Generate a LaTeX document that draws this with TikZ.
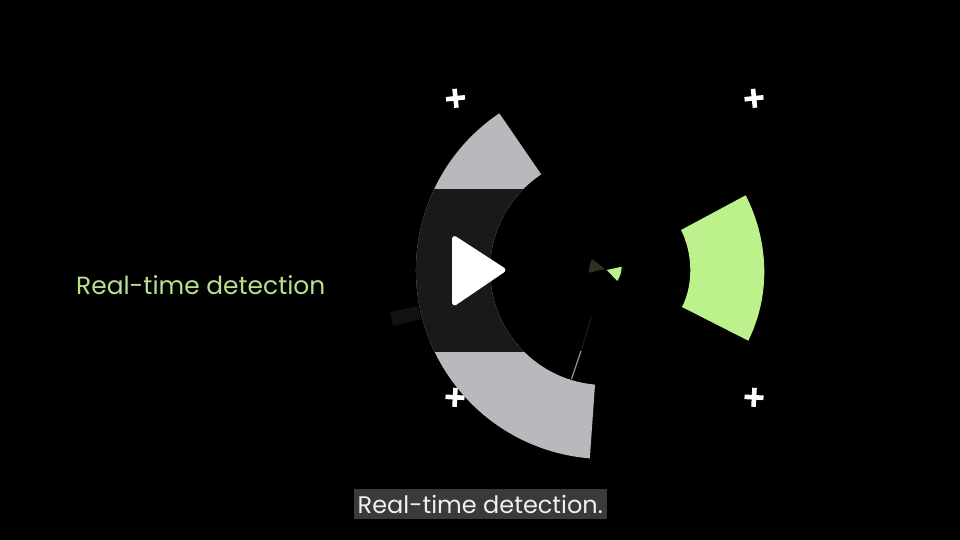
\documentclass[tikz,border=0pt]{standalone}
\usepackage{fontspec}
\setmainfont{Poppins}
\definecolor{ringgray}{HTML}{B8B9BD}
\definecolor{banddark}{HTML}{191919}
\definecolor{limegreen}{HTML}{BDF18C}
\definecolor{labelgreen}{HTML}{B8E08E}
\definecolor{dimgreen}{HTML}{29331F}
\definecolor{capbg}{HTML}{3A3A3A}
\definecolor{faintbar}{HTML}{121212}
\tikzset{
  px/.style={x=1pt,y=-1pt},
  plusmark/.style={draw=white,line width=4.6pt,line cap=butt},
  sideLabel/.style={anchor=base west,inner sep=0pt,text=labelgreen,font=\fontsize{24.9}{30}\selectfont},
  capLabel/.style={anchor=base west,inner sep=0pt,text=white!94!black,font=\fontsize{24}{29}\selectfont},
}
\begin{document}
\begin{tikzpicture}[px]
\useasboundingbox (0,0) rectangle (960,540);
\fill[black] (0,0) rectangle (960,540);
% plus marks
\foreach \cx/\cy/\r in {455.5/98.3/6,754/98.3/6,455/397.3/-3,754/397.3/-3}{
  \draw[plusmark,rotate around={\r:(\cx,\cy)}] (\cx-9.5,\cy) -- (\cx+9.5,\cy) (\cx,\cy-9.5) -- (\cx,\cy+9.5);
}
% faint bar
\fill[faintbar] (390,312) -- (418,306) -- (421,319) -- (393,326) -- cycle;
% thin needle
\draw[banddark,line width=1.2pt] (591.5,317) -- (581,351);
\draw[ringgray!80!black,line width=1.2pt] (581,351) -- (571.5,379);
% grey ring about (605,270), R=189 / 115
\fill[ringgray]
  (499.3,113.3) arc[start angle=-124,delta angle=-141.4,radius=189]
  -- (595,384.6) arc[start angle=95,delta angle=141.3,radius=115] -- cycle;
\begin{scope}
  \clip (400,189) rectangle (620,351);
  \fill[banddark]
    (499.3,113.3) arc[start angle=-124,delta angle=-141.4,radius=189]
    -- (595,384.6) arc[start angle=95,delta angle=141.3,radius=115] -- cycle;
\end{scope}
% green sector
\fill[limegreen]
  (745.7,195.3) .. controls (769,241) and (771,295) .. (748.3,340.7)
  -- (682,307) .. controls (693.7,284) and (692.7,253) .. (681,230) -- cycle;
% small marks
\fill[limegreen] (606.7,270) -- (621.7,266.7) .. controls (621.5,272) and (620,277) .. (617.3,281) -- cycle;
\fill[dimgreen] (592,259) -- (605,269) -- (589,272.7) .. controls (589,268) and (590,263) .. (592,259) -- cycle;
% play
\fill[white,draw=white,line width=5pt,line join=round] (454.5,238.5) -- (503,270) -- (454.5,303) -- cycle;
% texts
\node[sideLabel] (side) at (76,294.5) {Real-time detection};
\fill[capbg] (353.5,489) rectangle (607,519);
\node[capLabel] (cap) at (357.5,513) {Real-time detection.};
\end{tikzpicture}
\end{document}
